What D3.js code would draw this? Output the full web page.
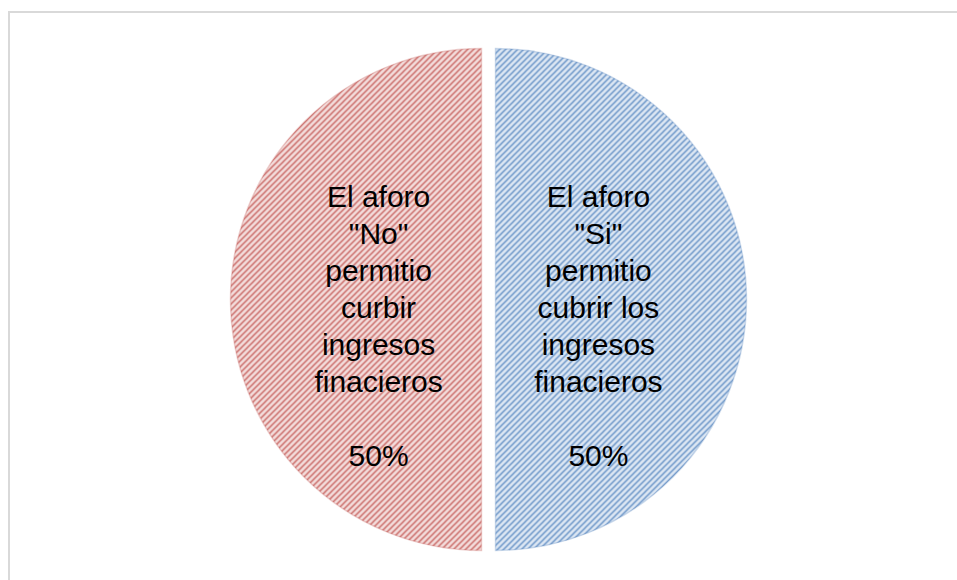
<!DOCTYPE html>
<html>
<head>
<meta charset="utf-8">
<script src="https://cdn.jsdelivr.net/npm/d3@7"></script>
<style>
  body { margin: 0; background: #fff; }
  svg { display: block; }
</style>
</head>
<body>
<svg id="chart"></svg>
<script>
// data
var categories = [
    'El aforo "Si" permitio cubrir los ingresos finacieros',
    'El aforo "No" permitio curbir ingresos finacieros'
];
var values = [50, 50];
var labelLines = [
    ["El aforo", "\"Si\"", "permitio", "cubrir los", "ingresos", "finacieros", "", "50%"],
    ["El aforo", "\"No\"", "permitio", "curbir", "ingresos", "finacieros", "", "50%"]
];
var fgColors = ["#4f81bd", "#c0504d"];
var bgColors = ["#dde7f3", "#f3dddc"];

function PieChart(ID, cfg) {
    var svg = d3.select("#" + ID).attr("width", cfg.width).attr("height", cfg.height);

    // chart area border (top and left only visible)
    svg.append("line").attr("x1", 8).attr("y1", 12).attr("x2", cfg.width).attr("y2", 12)
        .attr("stroke", "#d9d9d9").attr("stroke-width", 2);
    svg.append("line").attr("x1", 9).attr("y1", 11).attr("x2", 9).attr("y2", cfg.height)
        .attr("stroke", "#d9d9d9").attr("stroke-width", 2);

    // hatch patterns, one per slice
    var defs = svg.append("defs");
    var s = 6;
    categories.forEach(function (c, i) {
        var p = defs.append("pattern").attr("id", "hatch" + i)
            .attr("patternUnits", "userSpaceOnUse")
            .attr("width", s).attr("height", s);
        p.append("rect").attr("width", s).attr("height", s).attr("fill", bgColors[i]);
        p.append("path")
            .attr("d", "M-1," + (s + 1) + "L" + (s + 1) + ",-1 M-1,1 L1,-1 M" + (s - 1) + "," + (s + 1) + " L" + (s + 1) + "," + (s - 1))
            .attr("stroke", fgColors[i]).attr("stroke-width", 1.3).attr("stroke-opacity", 0.9);
    });

    var pie = d3.pie().sort(null).value(function (d) { return d; });
    var arcs = pie(values);
    var arc = d3.arc().innerRadius(0).outerRadius(cfg.radius);
    var labelArc = d3.arc().innerRadius(cfg.radius * 0.41).outerRadius(cfg.radius * 0.41);

    var g = svg.append("g").attr("transform", "translate(" + cfg.cx + "," + cfg.cy + ")");

    var slice = g.selectAll(".slice").data(arcs).enter().append("g")
        .attr("class", "slice")
        .attr("transform", function (d) {
            var mid = (d.startAngle + d.endAngle) / 2;
            return "translate(" + (Math.sin(mid) * cfg.explode) + "," + (-Math.cos(mid) * cfg.explode) + ")";
        });

    slice.append("path")
        .attr("d", arc)
        .attr("fill", function (d, i) { return "url(#hatch" + i + ")"; })
        .attr("stroke", function (d, i) { return fgColors[i]; })
        .attr("stroke-opacity", 0.25)
        .attr("stroke-width", 1.5);

    var fs = 30, lh = 37;
    slice.append("text")
        .attr("transform", function (d) {
            var c = labelArc.centroid(d);
            return "translate(" + c[0] + "," + (c[1] + cfg.labelShift) + ")";
        })
        .attr("text-anchor", "middle")
        .style("font-family", "'Liberation Sans', Arial, sans-serif")
        .style("font-size", fs + "px")
        .attr("fill", "#000")
        .each(function (d, i) {
            var lines = labelLines[i];
            var t = d3.select(this);
            var y0 = -(lines.length - 1) / 2 * lh + fs * 0.358;
            lines.forEach(function (l, k) {
                t.append("tspan").attr("x", 0).attr("y", y0 + k * lh).text(l);
            });
        });
}

PieChart("chart", {
    width: 957, height: 580,
    cx: 488.5, cy: 299.5, radius: 251, explode: 7, labelShift: 26.5
});
</script>
</body>
</html>
